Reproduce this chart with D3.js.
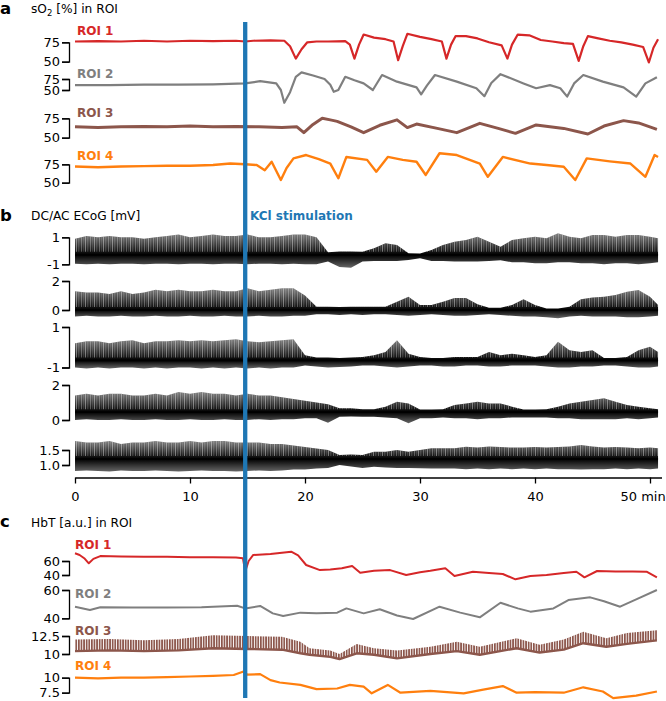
<!DOCTYPE html>
<html>
<head>
<meta charset="utf-8">
<script src="https://cdn.jsdelivr.net/npm/d3@7.9.0/dist/d3.min.js"></script>
<style>
  html, body { margin: 0; padding: 0; background: #fff; }
  svg { display: block; font-family: "DejaVu Sans", sans-serif; }
  .axis path, .axis line { stroke: #000; stroke-width: 1.3; }
  .axis text { font-size: 13px; fill: #000; font-family: "DejaVu Sans", sans-serif; }
</style>
</head>
<body>
<svg id="chart" width="666" height="701"></svg>
<script>
// ---- data (time in min) ----
const stimTime = 14.8;
const xTicks = [0, 10, 20, 30, 40, 50];

// panel a: sO2 [%], [t, value]
const so2Roi1 = [[0,76],[2,76.5],[4,76],[6,77],[8,76],[10,77],[12,76.5],[14,77],[14.8,76],[15.5,77],[17,77.5],[18.2,77],[18.7,70],[19.2,54],[19.7,66],[20.2,75],[21,76],[22,76],[23.5,76.5],[23.9,72],[24.3,54],[24.7,72],[25.1,85],[26,81],[27,79],[27.7,76],[28.1,52],[28.5,70],[28.9,86],[30,82],[31,79],[31.9,76],[32.3,54],[32.7,72],[33.1,83],[34,83],[35,80],[36,75],[37.1,71],[37.6,54],[38,72],[38.5,85],[39.5,84],[40.5,78],[41.5,76],[42.5,74],[43.3,73],[43.8,51],[44.2,70],[44.6,83],[45.5,80],[46.5,77],[47.5,75],[48.5,72],[49.4,69],[49.9,49],[50.3,68],[50.7,79]];
const so2Roi2 = [[0,61],[3,61],[6,62],[9,62],[12,63],[14.8,65],[16.1,70],[17.5,65],[17.9,50],[18.2,21],[18.7,45],[19.2,80],[19.7,90],[20.7,83],[21.7,75],[22.2,62],[22.5,46],[22.9,50],[23.5,80],[24.3,72],[25.1,65],[25.9,50],[26.7,84],[28,69],[29.7,56],[30.1,40],[30.6,60],[31.3,84],[33.2,69],[34.9,54],[35.6,36],[36.2,66],[37,86],[39,65],[40.1,54],[41.3,61],[42.2,54],[42.8,35],[43.4,65],[44.2,84],[45.9,69],[47.7,56],[48.8,35],[49.6,65],[50.6,79]];
const so2Roi3 = [[0,64],[2,63],[4,64],[6,64.5],[8,64],[10,65],[12,64],[14,64.5],[16,64],[18,63],[19.3,64],[19.9,56.5],[20.6,66],[21.5,75],[22.2,73],[22.8,71],[24,64],[25.1,56.5],[26.5,66],[28,73],[28.9,63],[29.7,67.6],[31.5,62],[33.2,56.5],[35.2,68.5],[36.8,62],[38.3,55.6],[40.1,66.4],[42.5,62],[44.6,54.8],[46,65],[47.7,72],[49,69],[50.6,60.8]];
const so2Roi4 = [[0,72],[2,71],[4,72],[6,72.5],[8,73],[10,73],[12,74],[13.5,76],[14.8,75],[15.8,74],[16.5,67],[17.1,78.5],[17.9,53.7],[18.4,70],[19,83],[20.1,87.6],[21.2,82],[22.2,76],[22.9,56],[23.6,85],[25.4,81],[26.2,65],[27.2,85],[28.5,81],[29.7,78.5],[30.5,60.5],[31.7,90],[33.2,87.6],[35.2,76],[35.9,58],[37.2,85],[39.6,76],[41,74],[42.5,71.7],[43.5,53.7],[44.5,83],[46.5,79],[48.3,76],[49.6,58],[50.4,87.6],[50.7,85]];
const so2Ticks = [50, 75];

// panel b: ECoG envelopes [mV], one value per minute
const minutes = [0,1,2,3,4,5,6,7,8,9,10,11,12,13,14,15,16,17,18,19,20,21,22,23,24,25,26,27,28,29,30,31,32,33,34,35,36,37,38,39,40,41,42,43,44,45,46,47,48,49,50,50.7];
const ecog1Hi = [0.9,1.1,1.0,1.1,1.0,1.0,0.9,1.0,1.1,1.2,1.0,1.1,1.2,1.1,1.1,1.2,1.0,1.0,1.1,1.2,1.2,1.0,-0.1,-0.05,-0.05,-0.07,0.19,0.56,0.43,-0.19,-0.2,0.06,0.43,0.67,0.8,1.04,0.67,0.3,0.8,0.93,1.04,0.93,1.3,1.04,0.93,1.17,1.17,1.04,1.17,1.17,1.04,0.93];
const ecog1Lo = [-0.95,-1.0,-0.95,-1.0,-0.95,-0.95,-1.0,-0.95,-0.95,-1.0,-0.95,-0.95,-1.0,-0.95,-0.95,-1.0,-0.95,-0.95,-1.0,-0.95,-1.0,-1.0,-0.8,-1.2,-1.25,-0.8,-0.75,-0.75,-0.75,-0.68,-0.56,-0.75,-0.75,-0.8,-0.8,-0.8,-0.75,-0.7,-0.85,-0.85,-0.93,-0.93,-0.85,-0.85,-0.93,-0.93,-1.0,-0.93,-0.93,-1.0,-0.93,-0.85];
const ecog2Hi = [1.3,1.2,1.2,1.1,1.3,1.1,1.2,1.4,1.3,1.4,1.3,1.3,1.4,1.3,1.3,1.5,1.3,1.4,1.5,1.5,1.0,0.23,0.23,0.2,0.23,0.23,0.23,0.23,0.57,0.92,0.34,0.34,0.57,0.83,0.83,0.39,0.16,0.16,0.34,0.75,0.34,0.1,0.1,0.23,0.75,0.87,0.92,1.03,1.26,1.38,0.92,0.34];
const ecog2Lo = [-0.45,-0.4,-0.45,-0.45,-0.4,-0.45,-0.45,-0.4,-0.45,-0.45,-0.4,-0.45,-0.45,-0.4,-0.45,-0.45,-0.4,-0.45,-0.45,-0.4,-0.4,-0.3,-0.3,-0.35,-0.3,-0.34,-0.3,-0.3,-0.35,-0.4,-0.35,-0.3,-0.35,-0.4,-0.4,-0.35,-0.3,-0.35,-0.4,-0.45,-0.45,-0.5,-0.57,-0.45,-0.4,-0.45,-0.45,-0.45,-0.5,-0.5,-0.45,-0.4];
const ecog3Hi = [0.2,0.3,0.3,0.2,0.3,0.35,0.2,0.3,0.3,0.35,0.3,0.35,0.3,0.35,0.4,0.3,0.25,0.3,0.35,0.4,-0.4,-0.5,-0.5,-0.53,-0.5,-0.48,-0.4,-0.23,0.35,-0.32,-0.48,-0.53,-0.53,-0.48,-0.48,-0.48,-0.23,-0.4,-0.32,-0.4,-0.48,-0.4,0.27,-0.15,-0.23,-0.15,-0.53,-0.53,-0.48,-0.15,0.02,-0.23];
const ecog3Lo = [-1.0,-1.05,-1.0,-1.05,-1.0,-1.0,-1.05,-1.0,-1.05,-1.0,-1.0,-1.05,-1.0,-1.05,-1.0,-1.05,-1.0,-1.05,-1.0,-1.0,-0.9,-0.95,-1.0,-0.98,-0.95,-0.9,-0.9,-0.95,-1.0,-0.95,-0.9,-0.9,-0.95,-0.95,-0.9,-0.9,-0.95,-0.95,-0.9,-0.9,-0.9,-0.95,-1.0,-1.0,-0.95,-0.95,-0.9,-0.9,-0.95,-1.0,-1.0,-0.95];
const ecog4Hi = [1.4,1.5,1.4,1.5,1.5,1.4,1.4,1.5,1.4,1.6,1.5,1.6,1.5,1.5,1.4,1.5,1.4,1.4,1.3,1.2,1.1,1.0,0.9,0.67,0.67,0.61,0.61,0.76,1.05,0.95,0.6,0.6,0.61,0.86,0.95,1.05,0.95,0.95,0.76,0.6,0.6,0.61,0.76,0.95,1.05,1.14,1.24,1.05,0.86,0.76,0.67,0.61];
const ecog4Lo = [0.0,0.05,0.0,0.0,0.05,0.0,0.0,0.05,0.0,0.0,0.05,0.0,0.0,0.05,0.0,0.0,0.05,0.0,0.05,0.05,0.1,0.1,-0.15,0.19,0.2,0.19,0.19,0.15,0.1,-0.19,0.1,0.1,0.15,0.1,0.1,0.05,0.1,0.1,0.15,0.15,0.15,0.15,0.1,0.1,0.05,0.05,0.05,0.05,0.1,0.05,0.1,0.15];
const ecog5Hi = [1.8,1.75,1.75,1.8,1.7,1.75,1.75,1.8,1.75,1.75,1.8,1.75,1.8,1.8,1.75,1.75,1.75,1.7,1.7,1.65,1.6,1.55,1.5,1.33,1.35,1.33,1.44,1.44,1.5,1.44,1.5,1.56,1.56,1.56,1.61,1.58,1.62,1.6,1.58,1.58,1.6,1.58,1.6,1.62,1.67,1.62,1.58,1.6,1.58,1.56,1.58,1.56];
const ecog5Lo = [0.8,0.82,0.8,0.78,0.82,0.8,0.8,0.82,0.8,0.78,0.8,0.82,0.8,0.8,0.78,0.8,0.82,0.8,0.82,0.85,0.85,0.88,0.9,1.0,0.95,0.9,0.94,0.92,0.9,0.9,0.89,0.88,0.88,0.88,0.86,0.88,0.86,0.88,0.86,0.88,0.86,0.88,0.86,0.86,0.85,0.86,0.86,0.88,0.86,0.88,0.86,0.88];
const ecogBase = [-0.3, 0, -0.65, 0.45, 1.2];
const ecogTicks = [[-1, 1], [0, 2], [-1, 1], [0, 2], [1.0, 1.5]];

// panel c: HbT [a.u.], [t, value]
const hbtRoi1 = [[0,71],[0.4,68.6],[0.8,64],[1.2,56.7],[1.6,63],[2.2,67],[4,66.5],[6,66],[8,66],[10,65.5],[12,65.5],[14,65],[14.6,64],[14.8,45],[15.1,60],[15.5,68.6],[17,70],[18.8,73.3],[19.4,68],[20.1,54.3],[21.3,47],[22.2,48],[23.2,49.6],[24.1,52.9],[24.8,43.3],[26,46],[27.4,47],[28.8,40],[30,44],[30.9,46],[32.2,49.6],[33,38.6],[34.6,44.7],[36,43],[37.2,41.4],[38.3,33.8],[39.6,38.6],[41,40],[42.5,43],[43.6,44.7],[44.3,36.7],[45.4,45.7],[47,45],[48.5,45],[49.7,44.7],[50.6,36.7]];
const hbtRoi2 = [[0,48.2],[1.3,45.9],[2.2,47.8],[5,47.6],[8,47.6],[11,47.8],[14.1,48.9],[14.8,47],[16.1,48.7],[17.2,43.5],[18.1,41.6],[19.6,44],[21,43.5],[22.8,44],[23.6,47],[25.1,43.5],[26.5,46.4],[28,42],[29.4,39.5],[31.7,48.2],[33.5,44],[35.2,40.7],[37,51],[38.5,47],[39.6,44.7],[41.6,47],[42.9,52.9],[44.8,54.8],[46,52],[47.4,48.2],[48.8,53.4],[50.6,60]];
const hbtRoi3Hi = [[0,12],[3,12.1],[6,11.9],[9,12.1],[12,12.6],[15,12.5],[18,12.4],[19.6,11.7],[20.4,10.8],[22.2,10.5],[23,10],[24.5,11.4],[26,10.8],[28,10.5],[30.9,11],[33.2,11.7],[35.2,11],[38.4,12.2],[40.4,11.3],[42.5,12],[44.2,13.1],[46.2,12.2],[48,12.9],[50.6,13.3]];
const hbtRoi3Lo = [[0,10.4],[3,10.5],[6,10.4],[9,10.5],[12,10.8],[15,10.7],[18,10.6],[19.6,10.1],[20.4,9.9],[22.2,9.6],[23,9.3],[24.5,10.1],[26,9.9],[28,9.4],[30.9,10],[33.2,10.4],[35.2,9.9],[38.4,10.8],[40.4,10.2],[42.5,10.6],[44.2,11.5],[46.2,11],[48,11.4],[50.6,11.9]];
const hbtRoi4 = [[0,10],[2,9.9],[4,10],[6,10],[8,10.1],[10,10.2],[12,10.3],[13.8,10.45],[14.6,11],[15,10.5],[16.1,10.6],[17,9.6],[17.8,9.2],[19.6,8.8],[21,8.1],[22.8,8.2],[23.9,8.8],[25.1,8.5],[25.8,7.4],[27.2,8.8],[28.3,7.5],[30.9,7.8],[33.8,7.4],[35.5,8],[37.2,8.6],[38.4,7.5],[40,7.6],[42.5,7.5],[44.2,8.4],[45.9,7.7],[46.8,6.6],[48.8,7],[50.6,7.7]];
const hbtTicks = [[40, 60], [40, 60], [10, 12.5], [7.5, 10]];

const roiLabels = ['ROI 1', 'ROI 2', 'ROI 3', 'ROI 4'];
const roiColors = ['#d62728', '#7f7f7f', '#8c564b', '#ff7f0e'];

// ---- drawing ----
const svg = d3.select('#chart');
const defs = svg.append('defs');
const x = d3.scaleLinear().domain([0, 51]).range([75, 661.5]);
const AXIS_X = 69;
const fmt = d => (d < 0 ? '-' + Math.abs(d) : String(d));

// fine stripe textures for the spiky raw signals
const spikes = defs.append('pattern')
  .attr('id', 'spikes').attr('patternUnits', 'userSpaceOnUse')
  .attr('width', 9).attr('height', 20);
[[0, 0.8, 0.35], [2.5, 0.6, 0.25], [4, 1, 0.4], [6.5, 0.7, 0.3]].forEach(([sx, sw, so]) => {
  spikes.append('rect').attr('x', sx).attr('y', 0).attr('width', sw).attr('height', 20)
    .attr('fill', '#fff').attr('fill-opacity', so);
});
const brownStripes = defs.append('pattern')
  .attr('id', 'brownStripes').attr('patternUnits', 'userSpaceOnUse')
  .attr('width', 2.6).attr('height', 20);
brownStripes.append('rect').attr('x', 0).attr('y', 0).attr('width', 1.7).attr('height', 20)
  .attr('fill', roiColors[2]);

function yAxis(y, ticks, f = fmt) {
  svg.append('g')
    .attr('class', 'axis')
    .attr('transform', `translate(${AXIS_X},0)`)
    .call(d3.axisLeft(y).tickValues(ticks).tickFormat(f).tickSize(7).tickSizeOuter(7).tickPadding(2));
}

function trace(data, y, color, w) {
  svg.append('path')
    .datum(data)
    .attr('fill', 'none')
    .attr('stroke', color)
    .attr('stroke-width', w)
    .attr('stroke-linejoin', 'round')
    .attr('d', d3.line().x(d => x(d[0])).y(d => y(d[1])));
}

function roiLabel(i, px, py) {
  svg.append('text')
    .attr('x', px).attr('y', py)
    .attr('fill', roiColors[i])
    .style('font-weight', 'bold')
    .style('font-size', '12px')
    .text(roiLabels[i]);
}

// panel a
const so2Rows = [
  { data: so2Roi1, range: [61.7, 42.3], w: 2.2, lab: 35 },
  { data: so2Roi2, range: [90, 79], w: 2.2, lab: 78 },
  { data: so2Roi3, range: [137.7, 118.3], w: 3, lab: 117 },
  { data: so2Roi4, range: [182.7, 164.3], w: 2.4, lab: 160 }
];
so2Rows.forEach((r, i) => {
  const y = d3.scaleLinear().domain(so2Ticks).range(r.range);
  yAxis(y, so2Ticks);
  trace(r.data, y, roiColors[i], r.w);
  roiLabel(i, 77, r.lab);
});

// panel b
const ecogRows = [
  { hi: ecog1Hi, lo: ecog1Lo, range: [264.3, 237.3] },
  { hi: ecog2Hi, lo: ecog2Lo, range: [310, 281] },
  { hi: ecog3Hi, lo: ecog3Lo, range: [367.5, 327] },
  { hi: ecog4Hi, lo: ecog4Lo, range: [420, 385] },
  { hi: ecog5Hi, lo: ecog5Lo, range: [465, 450] }
];
ecogRows.forEach((r, i) => {
  const ticks = ecogTicks[i];
  const y = d3.scaleLinear().domain(ticks).range(r.range);
  yAxis(y, ticks, i === 4 ? d3.format('.1f') : fmt);

  const yTop = y(d3.max(r.hi)), yBot = y(d3.min(r.lo)), yB = y(ecogBase[i]);
  const grad = defs.append('linearGradient')
    .attr('id', 'eg' + i)
    .attr('gradientUnits', 'userSpaceOnUse')
    .attr('x1', 0).attr('x2', 0).attr('y1', yTop).attr('y2', yBot);
  grad.append('stop').attr('offset', 0).attr('stop-color', '#000').attr('stop-opacity', 0.5);
  grad.append('stop').attr('offset', (yB - yTop) / (yBot - yTop)).attr('stop-color', '#000').attr('stop-opacity', 1);
  grad.append('stop').attr('offset', 1).attr('stop-color', '#000').attr('stop-opacity', 0.6);

  svg.append('path')
    .datum(minutes)
    .attr('fill', `url(#eg${i})`)
    .attr('d', d3.area()
      .x(t => x(t))
      .y0((t, j) => y(r.lo[j]))
      .y1((t, j) => y(r.hi[j])));
  // light stripes over the part above the baseline
  svg.append('path')
    .datum(minutes)
    .attr('fill', 'url(#spikes)')
    .attr('d', d3.area()
      .x(t => x(t))
      .y0(yB - 3)
      .y1((t, j) => Math.min(y(r.hi[j]), yB - 3)));
  svg.append('line')
    .attr('x1', x(minutes[0])).attr('x2', x(minutes[minutes.length - 1]))
    .attr('y1', yB).attr('y2', yB)
    .attr('stroke', '#000').attr('stroke-width', 1.8);
});

const xAxis = svg.append('g')
  .attr('class', 'axis')
  .attr('transform', 'translate(0,477.5)')
  .call(d3.axisBottom(x).tickValues(xTicks).tickSize(6).tickSizeOuter(0).tickPadding(8.5)
    .tickFormat(d => d === 50 ? '50 min' : d));
xAxis.selectAll('.tick text').filter(d => d === 50).attr('text-anchor', 'start').attr('x', -30);

// panel c
const hbtRows = [
  { data: hbtRoi1, range: [575, 561], w: 2, lab: 548.5 },
  { data: hbtRoi2, range: [618.3, 590], w: 2, lab: 598 },
  { data: null, range: [654, 636], w: 1.5, lab: 635 },
  { data: hbtRoi4, range: [692.7, 677.7], w: 2.2, lab: 670 }
];
hbtRows.forEach((r, i) => {
  const ticks = hbtTicks[i];
  const y = d3.scaleLinear().domain(ticks).range(r.range);
  yAxis(y, ticks);
  if (r.data) {
    trace(r.data, y, roiColors[i], r.w);
  } else {
    svg.append('path')
      .datum(hbtRoi3Hi)
      .attr('fill', 'url(#brownStripes)')
      .attr('d', d3.area()
        .x(d => x(d[0]))
        .y0((d, j) => y(hbtRoi3Lo[j][1]))
        .y1(d => y(d[1])));
    trace(hbtRoi3Lo, y, roiColors[i], 2.4);
  }
  roiLabel(i, 75, r.lab);
});

// stimulation marker
svg.append('line')
  .attr('x1', x(stimTime)).attr('x2', x(stimTime))
  .attr('y1', 22).attr('y2', 698)
  .attr('stroke', '#1f77b4').attr('stroke-width', 4.3);

// titles
function title(px, py, txt) {
  return svg.append('text').attr('x', px).attr('y', py).style('font-size', '12.2px').text(txt);
}
function panel(px, py, txt) {
  svg.append('text').attr('x', px).attr('y', py)
    .style('font-weight', 'bold').style('font-size', '16.5px').text(txt);
}
panel(0, 14, 'a');
const tA = svg.append('text').attr('x', 31).attr('y', 12.5).style('font-size', '12.2px');
tA.append('tspan').text('sO');
tA.append('tspan').attr('dy', 3).style('font-size', '8.5px').text('2');
tA.append('tspan').attr('dy', -3).text(' [%] in ROI');

panel(0, 221, 'b');
title(31, 220, 'DC/AC ECoG [mV]');
svg.append('text').attr('x', 250).attr('y', 220)
  .attr('fill', '#1f77b4').style('font-weight', 'bold').style('font-size', '12px')
  .text('KCl stimulation');

panel(0, 527, 'c');
title(31, 527, 'HbT [a.u.] in ROI');
</script>
</body>
</html>
